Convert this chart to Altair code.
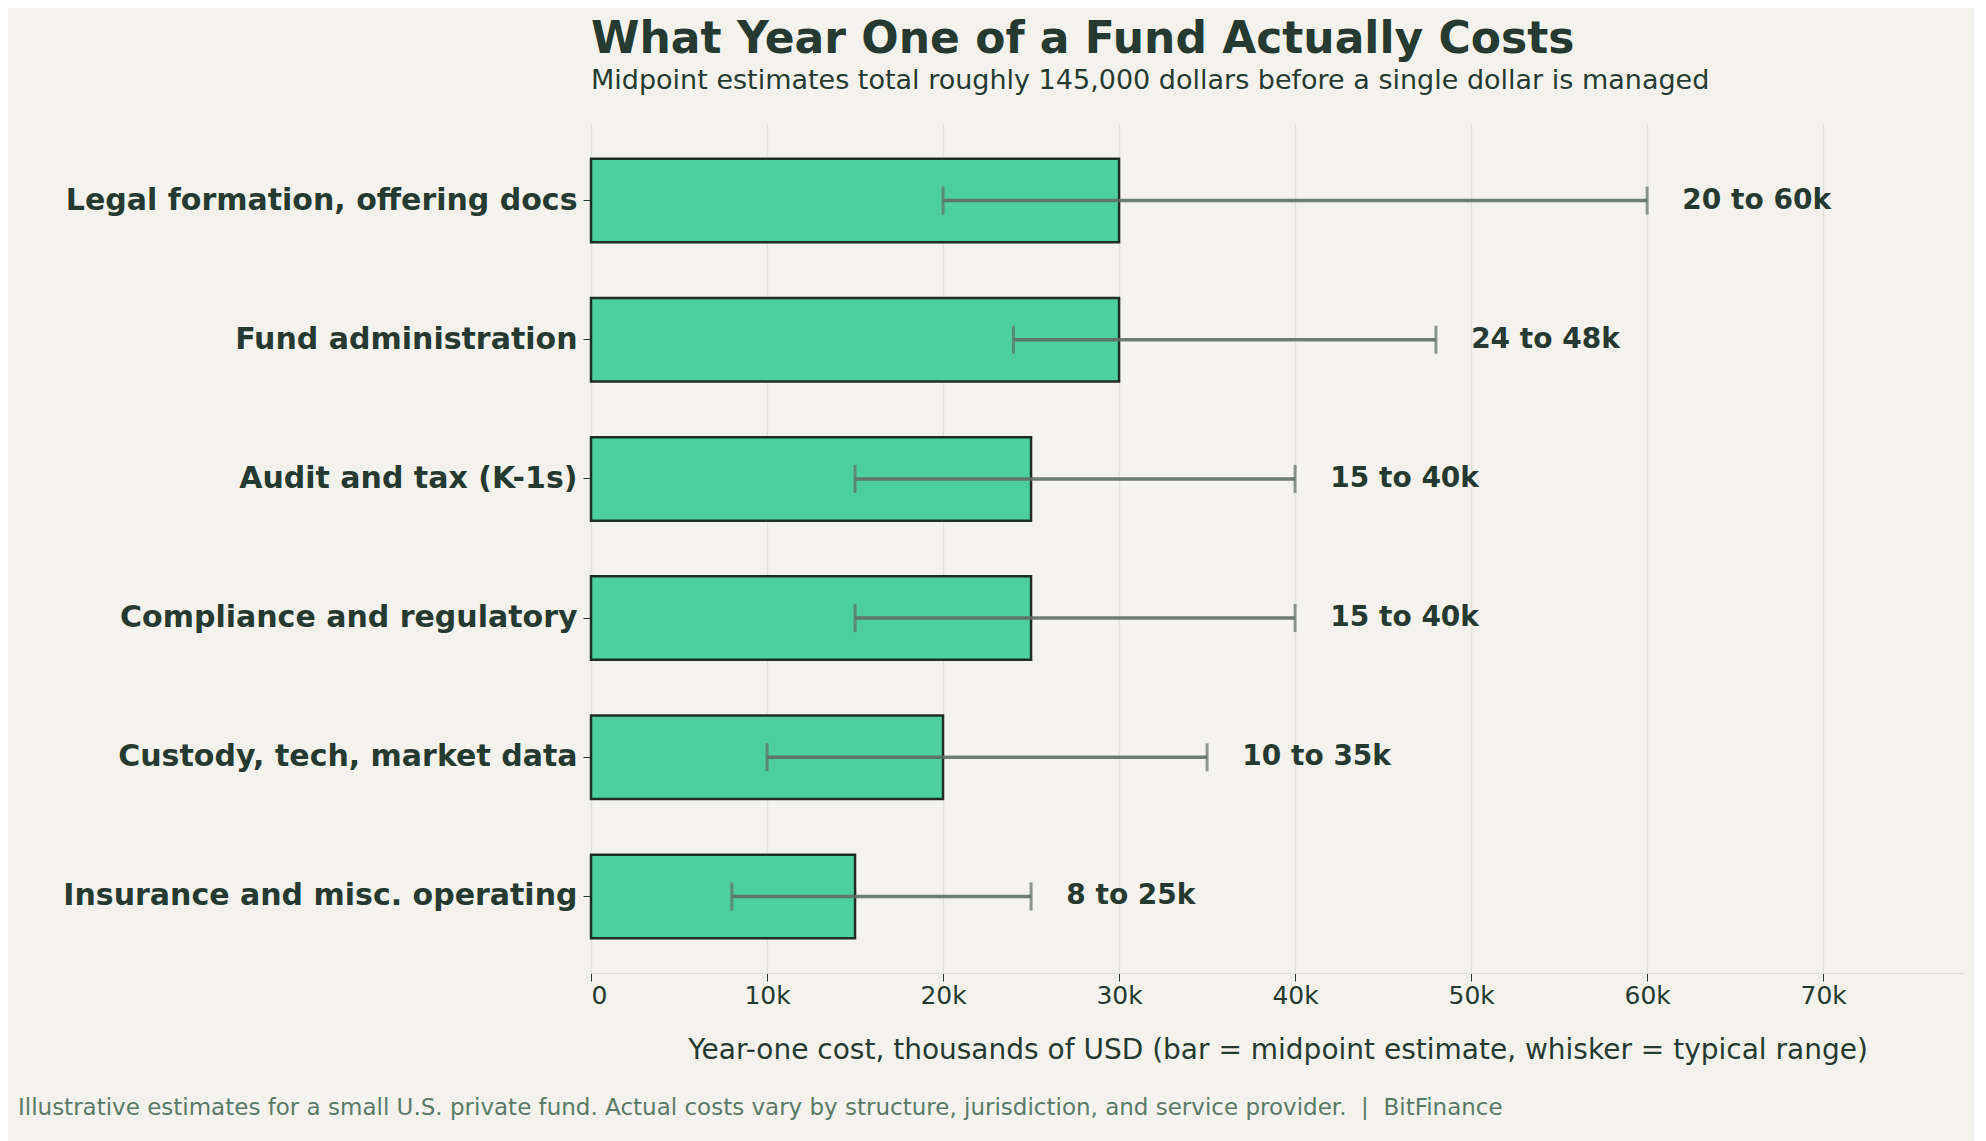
import altair as alt
import pandas as pd

categories = [
    "Legal formation, offering docs",
    "Fund administration",
    "Audit and tax (K-1s)",
    "Compliance and regulatory",
    "Custody, tech, market data",
    "Insurance and misc. operating",
]
midpoints = [30, 30, 25, 25, 20, 15]
lows = [20, 24, 15, 15, 10, 8]
highs = [60, 48, 40, 40, 35, 25]

df = pd.DataFrame({"cat": categories, "mid": midpoints, "low": lows, "high": highs})
df["label"] = [f"{l} to {h}k" for l, h in zip(lows, highs)]
df["lx"] = df["high"] + 2

W, H = 1373, 849
ink = "#263a31"
font = "DejaVu Sans"

xs = alt.Scale(domain=[0, 78], nice=False)
y = alt.Y("cat:N", sort=categories, title=None,
          scale=alt.Scale(paddingInner=0.4, paddingOuter=0.25),
          axis=alt.Axis(labelFontSize=30, labelFontWeight="bold", labelColor=ink,
                        labelFont=font, domain=False, tickColor=ink, tickSize=8,
                        labelPadding=6, labelLimit=700))

base = alt.Chart(df)

bars = base.mark_bar(color="#4dd09e", stroke="#1e2e26", strokeWidth=2.5).encode(
    x=alt.X("mid:Q", scale=xs, title="Year-one cost, thousands of USD (bar = midpoint estimate, whisker = typical range)",
            axis=alt.Axis(values=[0, 10, 20, 30, 40, 50, 60, 70], labelExpr="datum.value == 0 ? '0' : datum.value + 'k'",
                          labelFontSize=25, labelColor=ink, labelFont=font, titleFont=font,
                          titleFontSize=28, titleFontWeight="normal", titleColor=ink, titlePadding=28,
                          gridColor="#e2e2dc", gridWidth=1.5, domainColor="#dcdcd6", tickColor=ink, tickSize=8)),
    y=y,
)

whisk = base.mark_rule(color="#5f6e64", strokeWidth=3.5, opacity=0.9).encode(
    x=alt.X("low:Q", scale=xs), x2="high:Q", y=y)
cap_lo = base.mark_tick(color="#5f6e64", thickness=3, size=28, orient="vertical").encode(
    x=alt.X("low:Q", scale=xs), y=y)
cap_hi = base.mark_tick(color="#5f6e64", thickness=3, size=28, orient="vertical").encode(
    x=alt.X("high:Q", scale=xs), y=y)

labels = base.mark_text(align="left", baseline="middle", fontSize=28, fontWeight="bold",
                        color=ink, font=font).encode(x=alt.X("lx:Q", scale=xs), y=y, text="label:N")

footer = alt.Chart(pd.DataFrame({"t": ["Illustrative estimates for a small U.S. private fund. Actual costs vary by structure, jurisdiction, and service provider.\u00a0\u00a0|\u00a0\u00a0BitFinance"]})).mark_text(
    align="left", baseline="middle", fontSize=23, color="#5a7a68", font=font
).encode(x=alt.value(-573), y=alt.value(H + 135), text="t:N")

chart = (
    alt.layer(bars, whisk, cap_lo, cap_hi, labels, footer)
    .properties(
        width=W, height=H,
        background="#f4f2ec",
        title=alt.TitleParams(
            "What Year One of a Fund Actually Costs",
            subtitle="Midpoint estimates total roughly 145,000 dollars before a single dollar is managed",
            anchor="start", frame="group", fontSize=44, font=font, fontWeight="bold", color=ink,
            subtitleFont=font, subtitleFontSize=27, subtitleColor=ink, subtitlePadding=6, offset=30,
        ),
        padding={"left": 10, "top": 10, "right": 10, "bottom": 40},
    )
    .configure_view(stroke=None)
)

chart.save("out.html", embed_options={"renderer": "svg", "actions": False})
